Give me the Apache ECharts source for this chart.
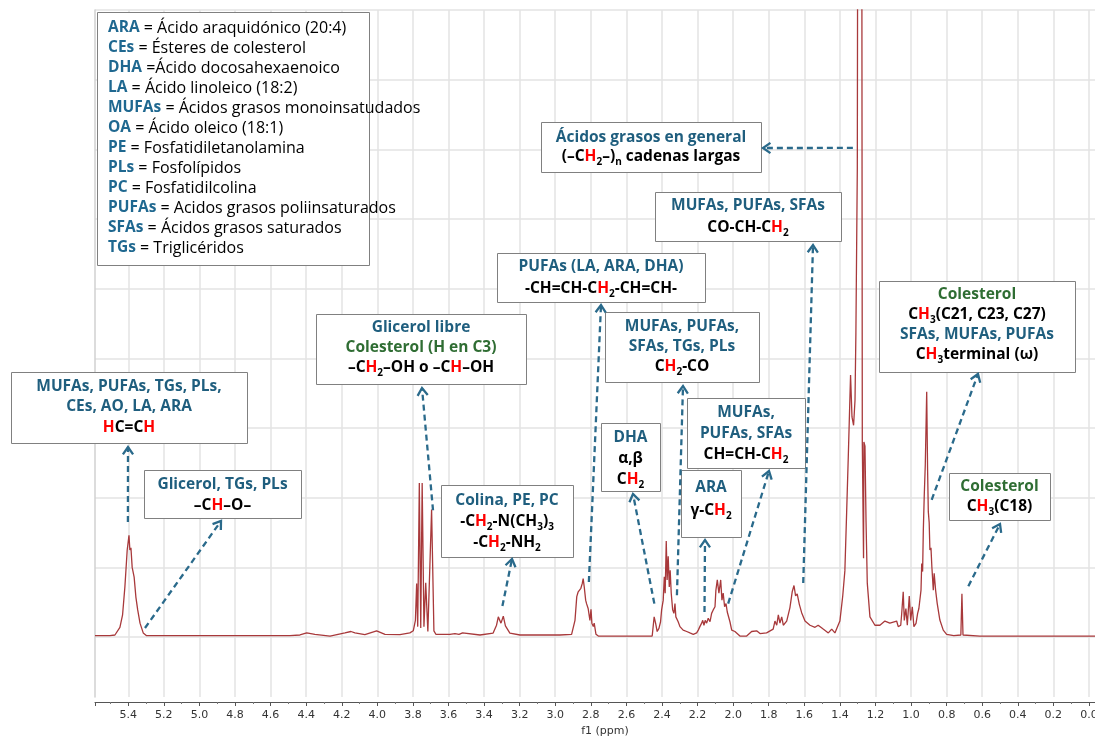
<!DOCTYPE html>
<html>
<head>
<meta charset="utf-8">
<script src="https://cdn.jsdelivr.net/npm/echarts@6/dist/echarts.min.js"></script>
<style>
  html, body { margin: 0; padding: 0; background: #ffffff; }
  #chart { width: 1095px; height: 736px; }
</style>
</head>
<body>
<div id="chart"></div>
<script>
// 1H NMR spectrum of a lipid extract, split by region: [chemical shift (ppm), intensity]
const olefinicRegion = [
  [5.587, 0.02], [5.503, 0.02], [5.475, 0.03], [5.447, 0.14], [5.432, 0.32], [5.419, 0.72],
  [5.406, 1.25], [5.396, 1.46], [5.391, 1.25], [5.385, 1.28], [5.378, 1.00], [5.367, 0.86],
  [5.357, 0.57], [5.347, 0.39], [5.334, 0.20], [5.316, 0.06], [5.297, 0.02]
];
const glycerolRegion = [
  [5.000, 0.02], [4.716, 0.02], [4.491, 0.02], [4.435, 0.03], [4.397, 0.06], [4.351, 0.04],
  [4.266, 0.015], [4.182, 0.06], [4.148, 0.08], [4.126, 0.06], [4.070, 0.035], [4.004, 0.09],
  [3.957, 0.04], [3.873, 0.035], [3.817, 0.06]
];
const glycerolFreeRegion = [
  [3.798, 0.09], [3.786, 0.24], [3.779, 0.77], [3.773, 0.15], [3.764, 2.21], [3.756, 0.13],
  [3.748, 2.21], [3.738, 0.15], [3.728, 0.78], [3.716, 0.08], [3.695, 1.83], [3.682, 0.09],
  [3.671, 0.04]
];
const cholineRegion = [
  [3.592, 0.04], [3.564, 0.05], [3.541, 0.04], [3.521, 0.06], [3.513, 0.035], [3.423, 0.03],
  [3.349, 0.057], [3.330, 0.17], [3.320, 0.29], [3.305, 0.20], [3.292, 0.30], [3.280, 0.16],
  [3.255, 0.057], [3.198, 0.03], [2.974, 0.03]
];
const bisallylicRegion = [
  [2.908, 0.04], [2.889, 0.24], [2.879, 0.58], [2.871, 0.65], [2.861, 0.63], [2.856, 0.70],
  [2.848, 0.77], [2.843, 0.84], [2.837, 0.72], [2.829, 0.53], [2.824, 0.48], [2.815, 0.41],
  [2.805, 0.24], [2.799, 0.40], [2.794, 0.20], [2.786, 0.15], [2.781, 0.20], [2.771, 0.04],
  [2.758, 0.015], [2.636, 0.015], [2.524, 0.015], [2.455, 0.015]
];
const alphaCarbonylRegion = [
  [2.449, 0.015], [2.444, 0.29], [2.436, 0.20], [2.427, 0.08], [2.417, 0.125], [2.408, 0.22],
  [2.402, 0.39], [2.393, 0.53], [2.387, 0.865], [2.382, 0.63], [2.376, 1.38], [2.371, 0.82],
  [2.365, 1.16], [2.359, 0.72], [2.354, 0.96], [2.348, 0.63], [2.340, 0.39], [2.333, 0.34],
  [2.327, 0.48], [2.322, 0.29], [2.309, 0.22], [2.299, 0.15], [2.281, 0.10], [2.261, 0.08],
  [2.243, 0.06], [2.224, 0.04], [2.215, 0.03]
];
const allylicRegion = [
  [2.205, 0.06], [2.196, 0.10], [2.187, 0.15], [2.177, 0.20], [2.171, 0.24], [2.164, 0.17],
  [2.157, 0.24], [2.149, 0.20], [2.140, 0.27], [2.130, 0.22], [2.121, 0.34], [2.112, 0.39],
  [2.102, 0.435], [2.097, 0.67], [2.089, 0.82], [2.080, 0.63], [2.070, 0.82], [2.063, 0.53],
  [2.056, 0.63], [2.048, 0.435], [2.040, 0.48], [2.033, 0.36], [2.018, 0.22], [2.008, 0.10],
  [1.990, 0.08], [1.962, 0.015], [1.924, 0.015], [1.896, 0.08], [1.868, 0.09], [1.849, 0.05],
  [1.812, 0.06]
];
const betaCarbonylRegion = [
  [1.775, 0.115], [1.765, 0.23], [1.755, 0.17], [1.746, 0.32], [1.737, 0.20], [1.727, 0.29],
  [1.718, 0.17], [1.699, 0.23], [1.681, 0.42], [1.668, 0.65], [1.658, 0.74], [1.649, 0.59],
  [1.640, 0.62], [1.628, 0.47], [1.615, 0.35], [1.596, 0.23], [1.568, 0.17], [1.540, 0.14],
  [1.522, 0.17], [1.494, 0.115], [1.465, 0.06], [1.446, 0.115], [1.428, 0.06], [1.400, 0.23]
];
const methyleneRegion = [
  [1.384, 0.59], [1.372, 0.95], [1.362, 1.79], [1.353, 2.57], [1.340, 3.76], [1.332, 3.16],
  [1.323, 3.04], [1.315, 3.40], [1.310, 4.36], [1.302, 6.74], [1.298, 14.0], [1.288, 15.0],
  [1.278, 14.0], [1.274, 2.80], [1.267, 1.13], [1.265, 2.80], [1.259, 2.74], [1.253, 1.66],
  [1.246, 0.775], [1.231, 0.29], [1.203, 0.17], [1.175, 0.17], [1.147, 0.23], [1.119, 0.20],
  [1.081, 0.23]
];
const methylRegion = [
  [1.072, 0.15], [1.058, 0.17], [1.053, 0.32], [1.044, 0.65], [1.038, 0.24], [1.029, 0.41],
  [1.021, 0.17], [1.010, 0.59], [1.002, 0.24], [0.993, 0.435], [0.984, 0.15], [0.972, 0.197],
  [0.963, 0.34], [0.956, 0.41], [0.944, 0.674], [0.940, 1.057], [0.935, 0.94], [0.931, 1.535],
  [0.926, 2.01], [0.920, 2.47], [0.912, 3.52], [0.907, 2.40], [0.903, 1.80], [0.898, 1.64],
  [0.894, 1.25], [0.888, 1.28], [0.883, 1.01], [0.875, 0.674], [0.870, 0.914], [0.862, 0.674],
  [0.853, 0.484], [0.838, 0.244], [0.819, 0.10], [0.800, 0.04], [0.760, 0.02], [0.720, 0.03],
  [0.714, 0.62], [0.708, 0.03], [0.613, 0.015], [0.500, 0.015], [0.200, 0.015], [-0.034, 0.015]
];

const spectrum = [].concat(
  olefinicRegion, glycerolRegion, glycerolFreeRegion, cholineRegion, bisallylicRegion,
  alphaCarbonylRegion, allylicRegion, betaCarbonylRegion, methyleneRegion, methylRegion
);

// Abbreviation list
const glossaryTerms = ['ARA', 'CEs', 'DHA', 'LA', 'MUFAs', 'OA', 'PE', 'PLs', 'PC', 'PUFAs', 'SFAs', 'TGs'];
const glossaryMeanings = [
  '= Ácido araquidónico (20:4)', '= Ésteres de colesterol', '=Ácido docosahexaenoico',
  '= Ácido linoleico (18:2)', '= Ácidos grasos monoinsatudados', '= Ácido oleico (18:1)',
  '= Fosfatidiletanolamina', '= Fosfolípidos', '= Fosfatidilcolina',
  '= Acidos grasos poliinsaturados', '= Ácidos grasos saturados', '= Triglicéridos'
];

// Assignment labels: each line is a list of [text, style] runs
// t = teal heading, g = green heading, k = black, r = red proton, s = subscript
const assignmentLabels = {
  chains:    [[['Ácidos grasos en general', 't']],
              [['(–C', 'k'], ['H', 'r'], ['2', 's'], ['–)', 'k'], ['n', 's'], [' cadenas largas', 'k']]],
  betaCO:    [[['MUFAs, PUFAs, SFAs', 't']],
              [['CO-CH-C', 'k'], ['H', 'r'], ['2', 's']]],
  bisallyl:  [[['PUFAs (LA, ARA, DHA)', 't']],
              [['-CH=CH-C', 'k'], ['H', 'r'], ['2', 's'], ['-CH=CH-', 'k']]],
  alphaCO:   [[['MUFAs, PUFAs,', 't']], [['SFAs, TGs, PLs', 't']],
              [['C', 'k'], ['H', 'r'], ['2', 's'], ['-CO', 'k']]],
  glycerol:  [[['Glicerol libre', 't']], [['Colesterol (H en C3)', 'g']],
              [['–C', 'k'], ['H', 'r'], ['2', 's'], ['–OH o –C', 'k'], ['H', 'r'], ['–OH', 'k']]],
  methyl:    [[['Colesterol', 'g']], [['C', 'k'], ['H', 'r'], ['3', 's'], ['(C21, C23, C27)', 'k']],
              [['SFAs, MUFAs, PUFAs', 't']], [['C', 'k'], ['H', 'r'], ['3', 's'], ['terminal (ω)', 'k']]],
  olefinic:  [[['MUFAs, PUFAs, TGs, PLs,', 't']], [['CEs, AO, LA, ARA', 't']],
              [['H', 'r'], ['C=C', 'k'], ['H', 'r']]],
  allyl:     [[['MUFAs,', 't']], [['PUFAs, SFAs', 't']],
              [['CH=CH-C', 'k'], ['H', 'r'], ['2', 's']]],
  dha:       [[['DHA', 't']], [['α,β', 'k']], [['C', 'k'], ['H', 'r'], ['2', 's']]],
  glyceryl:  [[['Glicerol, TGs, PLs', 't']], [['–C', 'k'], ['H', 'r'], ['–O–', 'k']]],
  choline:   [[['Colina, PE, PC', 't']],
              [['-C', 'k'], ['H', 'r'], ['2', 's'], ['-N(CH', 'k'], ['3', 's'], [')', 'k'], ['3', 's']],
              [['-C', 'k'], ['H', 'r'], ['2', 's'], ['-NH', 'k'], ['2', 's']]],
  ara:       [[['ARA', 't']], [['γ-C', 'k'], ['H', 'r'], ['2', 's']]],
  c18:       [[['Colesterol', 'g']], [['C', 'k'], ['H', 'r'], ['3', 's'], ['(C18)', 'k']]]
};

// Signal each arrow starts from: [ppm, intensity]
const arrowSignals = {
  olefinic: [5.402, 1.65], glyceryl: [5.306, 0.13], glycerol: [3.687, 1.82], choline: [3.297, 0.445],
  bisallyl: [2.811, 0.79], dha: [2.443, 0.48], alphaCO: [2.316, 0.60], ara: [2.161, 0.36],
  allyl: [2.028, 0.48], betaCO: [1.606, 0.775], chains: [1.327, 7.02], methyl: [0.884, 1.97],
  c18: [0.678, 0.73]
};

// ---- layout (pixels) ----
const boxLayout = {
  chains:   { x: 541, y: 122, w: 220, h: 50, rows: [138, 157], tip: [763, 148] },
  betaCO:   { x: 655, y: 192, w: 186, h: 49, rows: [206, 228], tip: [813, 245] },
  bisallyl: { x: 497, y: 253, w: 208, h: 49, rows: [267, 289], tip: [601, 305] },
  alphaCO:  { x: 605, y: 312, w: 154, h: 70, rows: [327, 347, 367], tip: [683, 386] },
  glycerol: { x: 316, y: 314, w: 210, h: 70, rows: [328, 348, 368], tip: [422, 388] },
  methyl:   { x: 879, y: 281, w: 196, h: 91, rows: [295, 315, 335, 355], tip: [978, 374] },
  olefinic: { x: 11,  y: 372, w: 236, h: 71, rows: [387, 407, 428], tip: [128, 447] },
  allyl:    { x: 687, y: 398, w: 118, h: 70, rows: [413, 434, 455], tip: [769, 471] },
  dha:      { x: 601, y: 423, w: 59,  h: 68, rows: [438, 459, 480], tip: [633, 494] },
  glyceryl: { x: 144, y: 470, w: 157, h: 48, rows: [485, 506], tip: [221, 521] },
  choline:  { x: 441, y: 485, w: 132, h: 72, rows: [501, 522, 543], tip: [512, 559] },
  ara:      { x: 681, y: 470, w: 60,  h: 67, rows: [488, 511], tip: [705, 540] },
  c18:      { x: 949, y: 473, w: 101, h: 47, rows: [487, 507], tip: [1000, 524] }
};

const TEXT_FONT = '"Open Sans", "Noto Sans", sans-serif';
const TEAL = '#1f5e7e';
const ARROW = '#2a6a8b';
const BOLD = { fontFamily: TEXT_FONT, fontWeight: 'bold', fontSize: 15.5, lineHeight: 20 };
const RICH = {
  t: Object.assign({ fill: TEAL }, BOLD),
  g: Object.assign({ fill: '#2f6d33' }, BOLD),
  k: Object.assign({ fill: '#000000' }, BOLD),
  r: Object.assign({ fill: '#ff0000' }, BOLD),
  s: { fill: '#000000', fontFamily: TEXT_FONT, fontWeight: 'bold', fontSize: 10, lineHeight: 13, verticalAlign: 'bottom' },
  L: { fill: '#1f6890', fontFamily: TEXT_FONT, fontWeight: 'bold', fontSize: 15.5, lineHeight: 20 },
  n: { fill: '#000000', fontFamily: TEXT_FONT, fontWeight: 'normal', fontSize: 16, lineHeight: 20 }
};

const AXIS_FONT = '"DejaVu Sans", Verdana, sans-serif';
const chart = echarts.init(document.getElementById('chart'));

chart.setOption({
  animation: false,
  grid: { left: 95, right: 0, top: 10, bottom: 39, containLabel: false, outerBoundsMode: 'none' },
  xAxis: {
    type: 'value', inverse: true, min: -0.034, max: 5.587, splitNumber: 28, offset: 5,
    name: 'f1 (ppm)', nameLocation: 'middle', nameGap: 21,
    nameTextStyle: { fontFamily: AXIS_FONT, fontSize: 11, color: '#333', padding: [0, 0, 0, 20] },
    axisLine: { show: true, onZero: false, lineStyle: { color: '#555', width: 1 } },
    axisTick: { show: true, length: 4, lineStyle: { color: '#555' } },
    minorTick: { show: true, splitNumber: 2, length: 2, lineStyle: { color: '#777' } },
    axisLabel: {
      showMinLabel: false, showMaxLabel: false, margin: 8,
      fontFamily: AXIS_FONT, fontSize: 11, color: '#333',
      formatter: v => v.toFixed(1)
    },
    splitLine: { show: true, showMinLine: false, showMaxLine: false, lineStyle: { color: '#e3e3e3', width: 1.5 } }
  },
  yAxis: {
    type: 'value', min: -0.86, max: 9, splitNumber: 10,
    axisLabel: { show: false }, axisTick: { show: false },
    axisLine: { show: true, onZero: false, lineStyle: { color: '#d0d0d0', width: 1.5 } },
    splitLine: { show: true, showMinLine: false, lineStyle: { color: '#e3e3e3', width: 1.5 } }
  },
  series: [{
    type: 'line', data: spectrum, symbol: 'none', clip: true, silent: true,
    lineStyle: { color: '#a8393b', width: 1.3 }
  }]
});

function richText(runs) {
  return runs.map(([text, style]) => '{' + style + '|' + text + '}').join('');
}

const elements = [];

// Glossary box
elements.push({
  type: 'rect', z: 10, shape: { x: 97.5, y: 12.5, width: 272, height: 253 },
  style: { fill: '#ffffff', stroke: '#808080', lineWidth: 1 }
});
glossaryTerms.forEach((term, i) => {
  elements.push({
    type: 'text', z: 11, x: 108, y: 28 + i * 20,
    style: { text: richText([[term, 'L'], [' ' + glossaryMeanings[i], 'n']]), rich: RICH, align: 'left', verticalAlign: 'middle' }
  });
});

// Assignment boxes and dashed arrows
Object.keys(assignmentLabels).forEach(key => {
  const b = boxLayout[key];
  elements.push({
    type: 'rect', z: 10, shape: { x: b.x + 0.5, y: b.y + 0.5, width: b.w, height: b.h },
    style: { fill: '#ffffff', stroke: '#808080', lineWidth: 1 }
  });
  assignmentLabels[key].forEach((runs, i) => {
    elements.push({
      type: 'text', z: 11, x: b.x + b.w / 2, y: b.rows[i],
      style: { text: richText(runs), rich: RICH, align: 'center', verticalAlign: 'middle' }
    });
  });

  const start = chart.convertToPixel({ gridIndex: 0 }, arrowSignals[key]);
  const tip = b.tip;
  const dx = tip[0] - start[0], dy = tip[1] - start[1];
  const len = Math.hypot(dx, dy);
  const ux = dx / len, uy = dy / len;
  const headLen = 9, spread = 0.6;
  const arm = sgn => [
    tip[0] - headLen * (ux * Math.cos(spread) - sgn * uy * Math.sin(spread)),
    tip[1] - headLen * (uy * Math.cos(spread) + sgn * ux * Math.sin(spread))
  ];
  elements.push({
    type: 'line', z: 12,
    shape: { x1: start[0], y1: start[1], x2: tip[0], y2: tip[1] },
    style: { stroke: ARROW, lineWidth: 2.3, lineDash: [6, 4] }
  });
  elements.push({
    type: 'polyline', z: 12,
    shape: { points: [arm(1), tip, arm(-1)] },
    style: { stroke: ARROW, lineWidth: 2.3, fill: 'none' }
  });
});

chart.setOption({ graphic: { elements: elements } });
</script>
</body>
</html>
